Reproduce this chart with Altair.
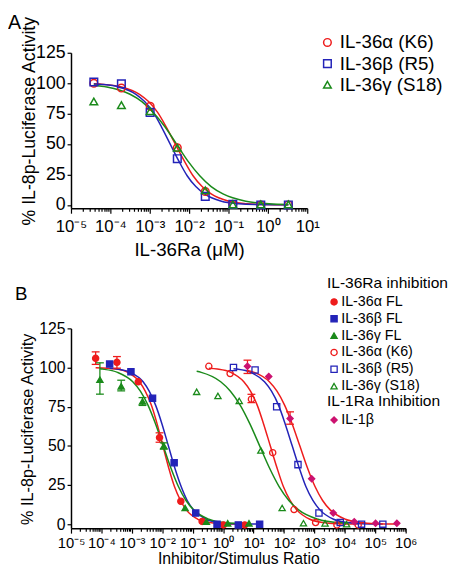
import altair as alt
import pandas as pd

FONT = "Liberation Sans, Arial, Helvetica, sans-serif"

# ---------------- Panel A data (x given as log10 of IL-36Ra, µM) ----------------
a_series = ["IL-36α (K6)", "IL-36β (R5)", "IL-36γ (S18)"]
a_colors = ["#ee1c1c", "#2323b8", "#1a8a1a"]
a_shapes = ["circle", "square", "triangle-up"]

a_logx = [-4.42, -3.72, -2.99, -2.30, -1.59, -0.89, -0.18, 0.52]
a_k6 = [100, 96, 81, 47, 11, 0.5, 0, 0]
a_r5 = [101, 99.5, 76, 38, 7, 0.5, 0, 0]
a_s18 = [85, 82, 77, 47, 12, 0.5, 0.5, 0.5]

a_fit_k6_x = [-4.42, -4.17, -3.71, -3.26, -3.03, -2.80, -2.58, -2.35, -2.12, -1.90, -1.67, -1.44, -0.99, -0.53, -0.08, 0.52]
a_fit_k6_y = [99.5, 99.0, 96.9, 90.9, 84.9, 76.0, 64.0, 50, 36, 24, 15.1, 9.1, 3.1, 1.0, 0.3, 0.1]
a_fit_r5_x = [-4.42, -4.22, -3.78, -3.35, -3.13, -2.91, -2.70, -2.48, -2.26, -2.05, -1.83, -1.61, -1.18, -0.74, -0.31, 0.52]
a_fit_r5_y = [99.4, 99.0, 96.9, 90.9, 84.9, 76.0, 64.0, 50, 36, 24, 15.1, 9.1, 3.1, 1.0, 0.3, 0.05]
a_fit_s18_x = [-4.42, -4.09, -3.50, -3.20, -2.91, -2.61, -2.32, -2.03, -1.73, -1.44, -1.14, -0.56, 0.03, 0.52]
a_fit_s18_y = [98.4, 96.9, 90.9, 84.9, 76.0, 64.0, 50, 36, 24, 15.1, 9.1, 3.1, 1.0, 0.4]

# ---------------- Panel B data (x given as log10 of inhibitor/stimulus ratio) ----------------
b36_series = ["IL-36α FL", "IL-36β FL", "IL-36γ FL", "IL-36α (K6)", "IL-36β (R5)", "IL-36γ (S18)"]
b36_colors = ["#ee1c1c", "#2323b8", "#1a8a1a", "#ee1c1c", "#2323b8", "#1a8a1a"]
b36_fills = ["#ee1c1c", "#2323b8", "#1a8a1a", "transparent", "transparent", "transparent"]
b36_shapes = ["circle", "square", "triangle-up", "circle", "square", "triangle-up"]
b1_series = ["IL-1β"]
b1_colors = ["#cc1270"]
b1_shapes = ["diamond"]

b_afl_x = [-4.19, -3.49, -2.79, -2.09, -1.39, -0.69, 0.01, 0.71]
b_afl_y = [105.9, 103.3, 90.9, 55.3, 14.6, 1.7, -0.5, -0.5]
b_bfl_x = [-3.73, -3.03, -2.32, -1.61, -0.90, -0.20, 0.50, 1.20]
b_bfl_y = [102.2, 97.3, 80.4, 39.2, 7.1, 0.0, -0.5, 0.0]
b_gfl_x = [-4.05, -3.35, -2.65, -1.95, -1.25, -0.55, 0.15, 0.85]
b_gfl_y = [92.2, 88.0, 78.3, 49.9, 10.3, 1.5, 0.5, 0.5]
b_k6_x = [-0.47, 0.23, 0.93, 1.63, 2.33, 3.04, 3.74, 4.44]
b_k6_y = [100.8, 96.2, 79.8, 45.6, 9.3, 1.0, -0.5, -0.5]
b_r5_x = [0.34, 1.05, 1.76, 2.46, 3.15, 3.85, 4.55, 5.25]
b_r5_y = [100.0, 98.4, 75.0, 38.0, 7.1, 1.0, 0.0, 0.0]
b_s18_x = [-0.87, -0.17, 0.53, 1.24, 1.94, 2.64, 3.35, 4.06]
b_s18_y = [84.5, 81.9, 78.7, 47.0, 10.3, 0.6, 0.5, 0.0]
b_il1_x = [0.80, 1.50, 2.20, 2.91, 3.62, 4.31, 5.01, 5.71]
b_il1_y = [100.8, 94.3, 67.4, 29.0, 7.1, 1.5, 0.5, 0.5]

# fitted curves
b_fit_afl_x = [-4.19, -3.52, -3.13, -2.75, -2.56, -2.36, -2.17, -1.98, -1.79, -1.60, -1.40, -1.21, -0.83, -0.44, -0.06, 0.71]
b_fit_afl_y = [99.9, 99.0, 96.9, 90.9, 84.9, 76.0, 64.0, 50, 36, 24, 15.1, 9.1, 3.1, 1.0, 0.3, 0.03]
b_fit_bfl_x = [-3.73, -3.47, -3.05, -2.63, -2.43, -2.22, -2.01, -1.80, -1.59, -1.38, -1.18, -0.97, -0.55, -0.13, 0.28, 1.20]
b_fit_bfl_y = [99.5, 99.0, 96.9, 90.9, 84.9, 76.0, 64.0, 50, 36, 24, 15.1, 9.1, 3.1, 1.0, 0.3, 0.03]
b_fit_gfl_x = [-4.05, -3.97, -3.47, -2.97, -2.72, -2.47, -2.22, -1.97, -1.72, -1.47, -1.22, -0.97, -0.47, 0.03, 0.85]
b_fit_gfl_y = [99.2, 99.0, 96.9, 90.9, 84.9, 76.0, 64.0, 50, 36, 24, 15.1, 9.1, 3.1, 1.0, 0.15]
b_fit_k6_x = [-0.47, -0.19, 0.25, 0.68, 0.90, 1.12, 1.33, 1.55, 1.77, 1.98, 2.20, 2.42, 2.85, 3.29, 3.72, 4.44]
b_fit_k6_y = [99.5, 99.0, 96.9, 90.9, 84.9, 76.0, 64.0, 50, 36, 24, 15.1, 9.1, 3.1, 1.0, 0.3, 0.05]
b_fit_r5_x = [0.34, 0.45, 0.91, 1.36, 1.59, 1.82, 2.04, 2.27, 2.50, 2.72, 2.95, 3.18, 3.63, 4.09, 4.54, 5.25]
b_fit_r5_y = [99.25, 99.0, 96.9, 90.9, 84.9, 76.0, 64.0, 50, 36, 24, 15.1, 9.1, 3.1, 1.0, 0.3, 0.05]
b_fit_s18_x = [-0.87, -0.72, -0.08, 0.24, 0.56, 0.88, 1.20, 1.52, 1.84, 2.16, 2.48, 3.12, 3.76, 4.06]
b_fit_s18_y = [97.6, 96.9, 90.9, 84.9, 76.0, 64.0, 50, 36, 24, 15.1, 9.1, 3.1, 1.0, 0.6]
b_fit_il1_x = [0.80, 1.02, 1.52, 1.77, 2.02, 2.27, 2.52, 2.77, 3.02, 3.27, 3.52, 4.02, 4.52, 5.02, 5.71]
b_fit_il1_y = [98.1, 96.9, 90.9, 84.9, 76.0, 64.0, 50, 36, 24, 15.1, 9.1, 3.1, 1.0, 0.3, 0.06]

# error bars (SEM) visible in panel B
err_series = ["IL-36α FL", "IL-36α FL", "IL-36α FL", "IL-36γ FL", "IL-36γ FL", "IL-36γ FL",
              "IL-36γ FL", "IL-36α (K6)", "IL-1β", "IL-1β"]
err_x = [-4.19, -3.49, -2.09, -4.05, -3.35, -2.65, -1.95, 0.93, 0.80, 2.20]
err_lo = [102.0, 99.6, 52.3, 83.0, 85.1, 75.8, 47.9, 77.6, 96.2, 63.8]
err_hi = [110.0, 107.0, 58.3, 103.0, 91.9, 80.8, 51.9, 82.9, 104.7, 71.7]

y_ticks = [0, 25, 50, 75, 100, 125]
a_exps = list(range(-5, 2))
b_exps = list(range(-5, 7))


# ---------------- helpers ----------------
def frame(name, xs, ys):
    return pd.DataFrame({"series": name, "x": [10.0 ** v for v in xs], "y": ys})


SUP = str.maketrans("-0123456789", "⁻⁰¹²³⁴⁵⁶⁷⁸⁹")


def log_axis(exps, title, label_size, title_size, title_pad, label_pad):
    majors = [10.0 ** k for k in exps]
    minors = [m * 10.0 ** k for k in exps[:-1] for m in range(2, 10)]
    parts = [f"abs(log(datum.value)/LN10 - ({k})) < 0.01 ? '10{str(k).translate(SUP)}'" for k in exps]
    expr = " : ".join(parts) + " : ''"
    return alt.Axis(
        values=majors + minors, labelExpr=expr, labelOverlap=False, labelFlush=False,
        tickSize={"condition": {"test": "abs(log(datum.value)/LN10 - round(log(datum.value)/LN10)) < 0.01",
                                "value": 5}, "value": 3},
        tickWidth=1.2, tickColor="black", domainColor="black", domainWidth=1.5, grid=False,
        labelFont=FONT, labelFontSize=label_size, labelColor="black", labelPadding=label_pad,
        title=title, titleFont=FONT, titleFontSize=title_size, titleFontWeight="normal",
        titleColor="black", titlePadding=title_pad)


def y_axis(label_size, title_size, title_pad, **extra):
    return alt.Axis(
        values=y_ticks, labelOverlap=False, labelBound=False, labelFlush=False, tickSize=4,
        tickWidth=1.2, tickColor="black", domainColor="black", domainWidth=1.5, grid=False,
        labelFont=FONT, labelFontSize=label_size, labelColor="black", labelPadding=2,
        title="% IL-8p-Luciferase Activity", titleFont=FONT, titleFontSize=title_size,
        titleFontWeight="normal", titleColor="black", titlePadding=title_pad, **extra)


# ---------------- Panel A ----------------
a_pts = pd.concat([frame(a_series[0], a_logx, a_k6), frame(a_series[1], a_logx, a_r5),
                   frame(a_series[2], a_logx, a_s18)])
a_fit = pd.concat([frame(a_series[0], a_fit_k6_x, a_fit_k6_y), frame(a_series[1], a_fit_r5_x, a_fit_r5_y),
                   frame(a_series[2], a_fit_s18_x, a_fit_s18_y)])

xA = alt.X("x:Q", scale=alt.Scale(type="log", domain=[1e-5, 10], nice=False),
           axis=log_axis(a_exps, "IL-36Ra (μM)", 17, 19, 6, 6))
yA = alt.Y("y:Q", scale=alt.Scale(domain=[-2.75, 125], nice=False, zero=False),
           axis=y_axis(18, 18, -3, titleY=69))

legA = alt.Legend(orient="none", legendX=251, legendY=-20, title=None, labelFont=FONT,
                  labelFontSize=19, labelColor="black", symbolSize=60, symbolStrokeWidth=1.5,
                  labelOffset=3, rowPadding=1.5)

a_lines = alt.Chart(a_fit).mark_line(strokeWidth=1.5, interpolate="monotone").encode(
    x=xA, y=yA,
    color=alt.Color("series:N", scale=alt.Scale(domain=a_series, range=a_colors), legend=None))
a_marks = alt.Chart(a_pts).mark_point(filled=False, size=60, strokeWidth=1.5, opacity=1).encode(
    x=xA, y=yA,
    stroke=alt.Stroke("series:N", scale=alt.Scale(domain=a_series, range=a_colors), legend=legA),
    shape=alt.Shape("series:N", scale=alt.Scale(domain=a_series, range=a_shapes), legend=legA))

chartA = alt.layer(a_lines, a_marks).properties(
    width=240, height=158,
    title=alt.TitleParams("A", anchor="start", frame="group", dx=-64, offset=-17, fontSize=20,
                          fontWeight="normal", font=FONT, color="black"))

# ---------------- Panel B ----------------
all_series = b36_series + b1_series
all_colors = b36_colors + b1_colors

b36_pts = pd.concat([frame(b36_series[0], b_afl_x, b_afl_y), frame(b36_series[1], b_bfl_x, b_bfl_y),
                     frame(b36_series[2], b_gfl_x, b_gfl_y), frame(b36_series[3], b_k6_x, b_k6_y),
                     frame(b36_series[4], b_r5_x, b_r5_y), frame(b36_series[5], b_s18_x, b_s18_y)])
b1_pts = frame(b1_series[0], b_il1_x, b_il1_y)
b_fit = pd.concat([frame(b36_series[0], b_fit_afl_x, b_fit_afl_y), frame(b36_series[1], b_fit_bfl_x, b_fit_bfl_y),
                   frame(b36_series[2], b_fit_gfl_x, b_fit_gfl_y), frame(b36_series[3], b_fit_k6_x, b_fit_k6_y),
                   frame(b36_series[4], b_fit_r5_x, b_fit_r5_y), frame(b36_series[5], b_fit_s18_x, b_fit_s18_y),
                   frame(b1_series[0], b_fit_il1_x, b_fit_il1_y)])
b_err = pd.DataFrame({"series": err_series, "x": [10.0 ** v for v in err_x], "y": err_lo, "y2": err_hi})
b_caps = pd.concat([pd.DataFrame({"series": err_series, "x": [10.0 ** v for v in err_x], "y": err_lo}),
                    pd.DataFrame({"series": err_series, "x": [10.0 ** v for v in err_x], "y": err_hi})])

xB = alt.X("x:Q", scale=alt.Scale(type="log", domain=[1e-5, 1e6], nice=False),
           axis=log_axis(b_exps, "Inhibitor/Stimulus Ratio", 15, 16, 0, 3))
yB = alt.Y("y:Q", scale=alt.Scale(domain=[-2.6, 125], nice=False, zero=False),
           axis=y_axis(16, 16.5, 3, titleY=102))
colB = alt.Color("series:N", scale=alt.Scale(domain=all_series, range=all_colors), legend=None)

leg_common = dict(orient="none", labelFont=FONT, labelFontSize=14.5, labelColor="black",
                  titleFont=FONT, titleFontSize=15.8, titleFontWeight="normal", titleColor="black",
                  symbolSize=40, symbolStrokeWidth=1.3, labelOffset=0, rowPadding=2.1, titlePadding=3)
legB1 = alt.Legend(title="IL-36Ra inhibition", legendX=260, legendY=-52.9, **leg_common)
legB2 = alt.Legend(title="IL-1Ra Inhibition", legendX=260, legendY=67.1, **leg_common)

b_lines = alt.Chart(b_fit).mark_line(strokeWidth=1.5, interpolate="monotone").encode(
    x=xB, y=yB, color=colB)
b_bars = alt.Chart(b_err).mark_rule(strokeWidth=1.3).encode(
    x=xB, y=yB, y2="y2:Q", color=colB)
b_capmarks = alt.Chart(b_caps).mark_tick(orient="horizontal", size=8, thickness=1.3, opacity=1).encode(
    x=xB, y=yB, color=colB)
b36_marks = alt.Chart(b36_pts).mark_point(filled=True, size=40, strokeWidth=1.3, opacity=1).encode(
    x=xB, y=yB,
    stroke=alt.Stroke("series:N", scale=alt.Scale(domain=b36_series, range=b36_colors), legend=legB1),
    fill=alt.Fill("series:N", scale=alt.Scale(domain=b36_series, range=b36_fills), legend=legB1),
    shape=alt.Shape("series:N", scale=alt.Scale(domain=b36_series, range=b36_shapes), legend=legB1))
b1_marks = alt.Chart(b1_pts).mark_point(filled=True, size=40, strokeWidth=1.3, opacity=1).encode(
    x=xB, y=yB,
    stroke=alt.Stroke("series:N", scale=alt.Scale(domain=b1_series, range=b1_colors), legend=legB2),
    fill=alt.Fill("series:N", scale=alt.Scale(domain=b1_series, range=b1_colors), legend=legB2),
    shape=alt.Shape("series:N", scale=alt.Scale(domain=b1_series, range=b1_shapes), legend=legB2))

chartB = alt.layer(b_lines, b_bars, b_capmarks, b36_marks, b1_marks).resolve_scale(
    stroke="independent", fill="independent", shape="independent").properties(
    width=340, height=203,
    title=alt.TitleParams("B", anchor="start", frame="group", dx=-57, offset=-28, fontSize=19,
                          fontWeight="normal", font=FONT, color="black"))

chart = alt.vconcat(chartA, chartB, spacing=17).properties(padding=0, background="white").configure_view(
    stroke=None).configure_axis(labelOverlap=False)

chart.save("out.html", embed_options={"renderer": "svg", "actions": False})
